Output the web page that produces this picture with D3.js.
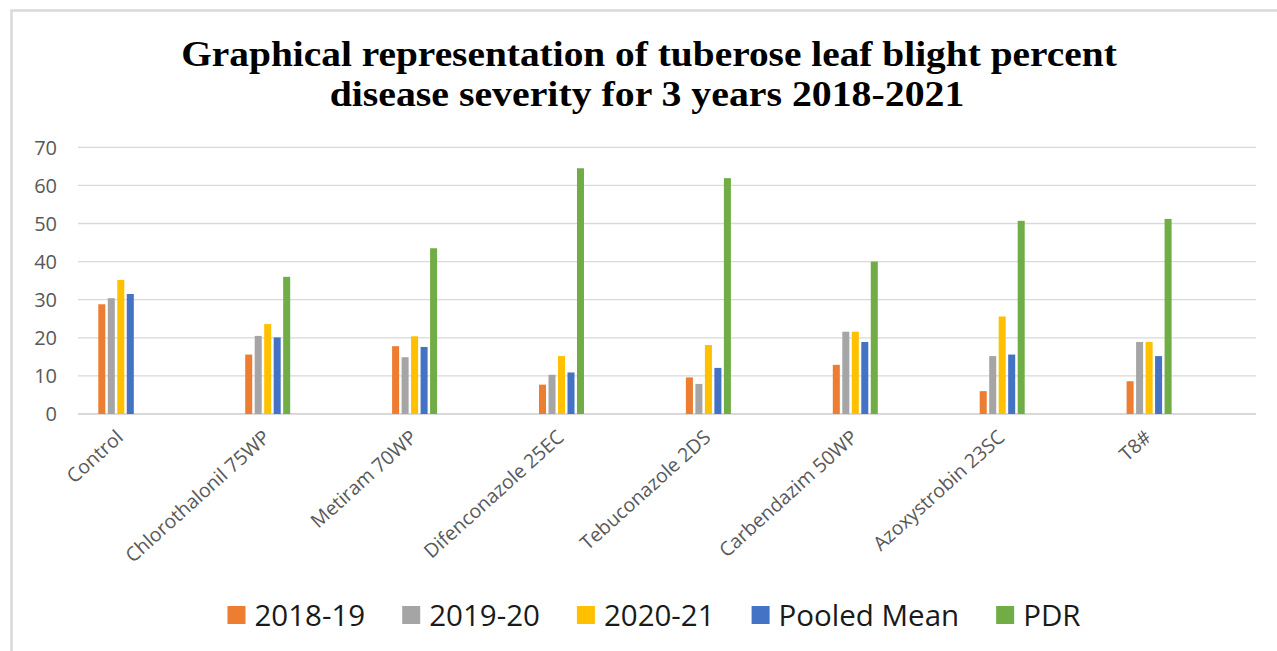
<!DOCTYPE html>
<html>
<head>
<meta charset="utf-8">
<script src="https://cdn.jsdelivr.net/npm/d3@7"></script>
<style>
  html, body { margin: 0; padding: 0; background: #ffffff; }
  svg { display: block; }
</style>
</head>
<body>
<svg id="chart" width="1277" height="651"></svg>
<script>
// Treatments on the category axis
const categories = ["Control", "Chlorothalonil 75WP", "Metiram 70WP", "Difenconazole 25EC",
  "Tebuconazole 2DS", "Carbendazim 50WP", "Azoxystrobin 23SC", "T8#"];

// Series names (legend order)
const seriesNames = ["2018-19", "2019-20", "2020-21", "Pooled Mean", "PDR"];

// Percent disease severity per treatment
const s2018 = [28.8, 15.6, 17.8, 7.7, 9.6, 12.9, 6.0, 8.6];
const s2019 = [30.4, 20.5, 14.9, 10.3, 7.9, 21.6, 15.2, 18.9];
const s2020 = [35.2, 23.6, 20.4, 15.2, 18.1, 21.6, 25.6, 18.9];
const pooledMean = [31.5, 20.1, 17.6, 10.9, 12.1, 18.9, 15.6, 15.2];
const pdr = [0, 36.0, 43.5, 64.5, 61.9, 40.0, 50.7, 51.2];

// Y axis ticks
const yTicks = [0, 10, 20, 30, 40, 50, 60, 70];

const titleLines = ["Graphical representation of tuberose leaf blight percent",
  "disease severity for 3 years 2018-2021"];

const seriesValues = [s2018, s2019, s2020, pooledMean, pdr];
const colors = ["#ED7D31", "#A5A5A5", "#FFC000", "#4472C4", "#70AD47"];

const svg = d3.select("#chart");

// Chart frame (only top and left edges fall inside the view)
svg.append("path")
  .attr("d", "M11.5,651 L11.5,10.5 L1277,10.5")
  .attr("fill", "none")
  .attr("stroke", "#d9d9d9")
  .attr("stroke-width", 2.5);

// Scales
const y = d3.scaleLinear().domain([0, 70]).range([414, 147.3]);
const x0 = d3.scaleBand().domain(categories).range([47.35, 1222.55]).padding(0);
const x1 = d3.scaleBand().domain(seriesNames).range([0, 45]).paddingInner(0.26).paddingOuter(0);
const gridX = [78, 1256];

// Gridlines
svg.append("g")
  .selectAll("line")
  .data(yTicks)
  .join("line")
  .attr("x1", gridX[0]).attr("x2", gridX[1])
  .attr("y1", d => y(d)).attr("y2", d => y(d))
  .attr("stroke", "#d9d9d9")
  .attr("stroke-width", d => d === 0 ? 1.8 : 1.3);

// Y tick labels
svg.append("g")
  .selectAll("text")
  .data(yTicks)
  .join("text")
  .attr("x", 57)
  .attr("y", d => y(d))
  .attr("dy", "0.36em")
  .attr("text-anchor", "end")
  .attr("font-family", "'Open Sans', sans-serif")
  .attr("font-size", 20)
  .attr("fill", "#595959")
  .text(d => d);

// Bars
const groups = svg.append("g")
  .selectAll("g")
  .data(categories)
  .join("g")
  .attr("transform", c => `translate(${x0(c) + x0.bandwidth() / 2 - 22.5},0)`);

groups.selectAll("rect")
  .data((c, i) => seriesNames.map((s, j) => ({ s, v: seriesValues[j][i], color: colors[j] })))
  .join("rect")
  .attr("x", d => x1(d.s))
  .attr("width", x1.bandwidth())
  .attr("y", d => y(d.v))
  .attr("height", d => y(0) - y(d.v))
  .attr("fill", d => d.color);

// Category labels, rotated
svg.append("g")
  .selectAll("text")
  .data(categories)
  .join("text")
  .attr("transform", c => `translate(${x0(c) + x0.bandwidth() / 2 - 1},434) rotate(-42)`)
  .attr("text-anchor", "end")
  .attr("dy", "0.35em")
  .attr("font-family", "'Open Sans', sans-serif")
  .attr("font-size", 19.5)
  .attr("fill", "#595959")
  .text(c => c);

// Title
const titleTargets = [{ cx: 649, base: 66, w: 936 }, { cx: 647, base: 106, w: 635 }];
titleLines.forEach((line, i) => {
  const t = svg.append("text")
    .attr("text-anchor", "middle")
    .attr("font-family", "'Liberation Serif', 'Times New Roman', serif")
    .attr("font-weight", "bold")
    .attr("font-size", 36)
    .attr("fill", "#000000")
    .text(line);
  const w = t.node().getComputedTextLength();
  const sx = titleTargets[i].w / w;
  t.attr("transform", `translate(${titleTargets[i].cx},${titleTargets[i].base}) scale(${sx},1)`);
});

// Legend
const legend = svg.append("g");
const items = legend.selectAll("g")
  .data(seriesNames)
  .join("g");
items.append("rect")
  .attr("width", 18).attr("height", 18)
  .attr("y", -9)
  .attr("fill", (d, i) => colors[i]);
items.append("text")
  .attr("x", 27)
  .attr("dy", "0.36em")
  .attr("font-family", "'Open Sans', sans-serif")
  .attr("font-size", 29.5)
  .attr("fill", "#1a1a1a")
  .text(d => d);
let offsets = [], cursor = 0;
items.each(function () {
  offsets.push(cursor);
  const tw = d3.select(this).select("text").node().getComputedTextLength();
  cursor += 27 + tw + 37;
});
const totalW = cursor - 37;
const legendLeft = 654 - totalW / 2;
items.attr("transform", (d, i) => `translate(${legendLeft + offsets[i]},615)`);
</script>
</body>
</html>
